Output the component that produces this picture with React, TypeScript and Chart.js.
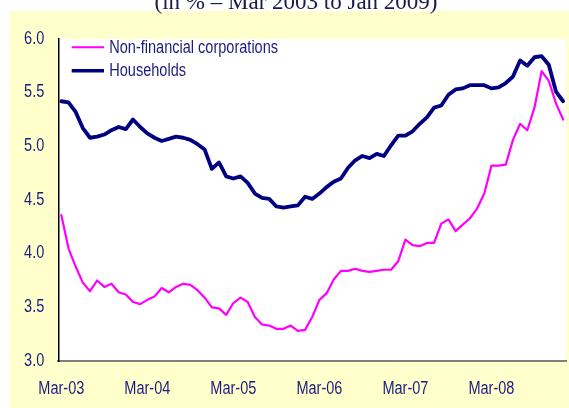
import React, { useEffect, useRef } from "react";
import { Chart, registerables } from "chart.js";

Chart.register(...registerables);

// Title of the figure (its upper half is cropped in the reference)
const titleText = "(in % \u2013 Mar 2003 to Jan 2009)";

// Series names
const seriesNames = ["Non-financial corporations", "Households"];

// X-axis tick labels and the month index (0 = Mar-03) at which they sit
const tickLabels = ["Mar-03", "Mar-04", "Mar-05", "Mar-06", "Mar-07", "Mar-08"];
const tickPositions = [0, 12, 24, 36, 48, 60];

// Y-axis ticks
const yTicks = [3.0, 3.5, 4.0, 4.5, 5.0, 5.5, 6.0];

// Monthly values, Mar 2003 .. Jan 2009 (71 months)
const nonFinancial = [
  4.36, 4.05, 3.88, 3.73, 3.65, 3.75, 3.69, 3.72, 3.64, 3.62, 3.55, 3.53,
  3.57, 3.60, 3.68, 3.64, 3.69, 3.72, 3.71, 3.66, 3.59, 3.50, 3.49, 3.43,
  3.54, 3.59, 3.55, 3.41, 3.34, 3.33, 3.30, 3.30, 3.33, 3.28, 3.29, 3.41,
  3.57, 3.63, 3.76, 3.84, 3.84, 3.86, 3.84, 3.83, 3.84, 3.85, 3.85, 3.93,
  4.13, 4.08, 4.07, 4.10, 4.10, 4.28, 4.32, 4.21, 4.27, 4.33, 4.42, 4.56,
  4.82, 4.82, 4.83, 5.06, 5.21, 5.15, 5.36, 5.70, 5.61, 5.40, 5.25,
];

const households = [
  5.42, 5.41, 5.32, 5.17, 5.08, 5.09, 5.11, 5.15, 5.18, 5.16, 5.25, 5.18,
  5.12, 5.08, 5.05, 5.07, 5.09, 5.08, 5.06, 5.02, 4.97, 4.79, 4.85, 4.72,
  4.70, 4.72, 4.66, 4.56, 4.52, 4.51, 4.44, 4.43, 4.44, 4.45, 4.53, 4.51,
  4.56, 4.62, 4.67, 4.70, 4.80, 4.87, 4.91, 4.89, 4.93, 4.91, 5.01, 5.10,
  5.10, 5.14, 5.21, 5.27, 5.36, 5.38, 5.48, 5.53, 5.54, 5.57, 5.57, 5.57,
  5.54, 5.55, 5.59, 5.65, 5.80, 5.75, 5.83, 5.84, 5.76, 5.51, 5.42,
];

const seriesColors = ["#FF00FF", "#000080"];
const seriesWidths = [2.2, 3.8];

const W = 569;
const H = 408;
const SANS = "'Liberation Sans', Arial, sans-serif";
const FONT_SIZE = 17.5;
const TEXT_SQUEEZE = 0.83; // the reference's sans text is horizontally condensed
const TEXT_COLOR = "#1C1C80";

const backgroundPlugin = {
  id: "panelBackground",
  beforeDraw(chart: any) {
    const { ctx, chartArea } = chart;
    ctx.save();
    ctx.fillStyle = "#FFFFFF";
    ctx.fillRect(0, 0, W, H);
    ctx.fillStyle = "#FFFFCC";
    ctx.fillRect(10, 11, W - 10, H - 11);
    ctx.fillStyle = "#FFFFFF";
    ctx.fillRect(chartArea.left, chartArea.top, chartArea.right - chartArea.left, chartArea.bottom - chartArea.top);
    ctx.fillStyle = "#1A1A4A";
    ctx.font = "23px 'Liberation Serif', 'Times New Roman', serif";
    ctx.textAlign = "center";
    ctx.textBaseline = "alphabetic";
    const plain = (ctx as any).__plainFillText || ctx.fillText.bind(ctx);
    plain(titleText, 296, 8.5);
    ctx.restore();
  },
};

const legendPlugin = {
  id: "insideLegend",
  afterDatasetsDraw(chart: any) {
    const { ctx } = chart;
    const ds = chart.data.datasets;
    ctx.save();
    ctx.font = `${FONT_SIZE}px ${SANS}`;
    ctx.textAlign = "left";
    ctx.textBaseline = "middle";
    ds.forEach((d: any, i: number) => {
      const y = 47.3 + i * 23.4;
      ctx.strokeStyle = d.borderColor;
      ctx.lineWidth = i === 0 ? 2 : 3.6;
      ctx.lineCap = "butt";
      ctx.beginPath();
      ctx.moveTo(71.7, y);
      ctx.lineTo(104, y);
      ctx.stroke();
      ctx.fillStyle = TEXT_COLOR;
      ctx.fillText(d.label, 109.3, y + 0.5);
    });
    ctx.restore();
  },
};

function squeezeText(ctx: any) {
  if (ctx.__plainFillText) return;
  const plain = ctx.fillText.bind(ctx);
  ctx.__plainFillText = plain;
  ctx.fillText = function (text: string, x: number, y: number, maxWidth?: number) {
    ctx.save();
    ctx.translate(x, y);
    ctx.scale(TEXT_SQUEEZE, 1);
    if (maxWidth !== undefined) plain(text, 0, 0, maxWidth / TEXT_SQUEEZE);
    else plain(text, 0, 0);
    ctx.restore();
  };
}

function ChartCanvas() {
  const ref = useRef<HTMLCanvasElement | null>(null);

  useEffect(() => {
    const canvas = ref.current;
    if (!canvas) return;
    const ctx2d = canvas.getContext("2d");
    if (ctx2d) squeezeText(ctx2d);
    const series = [nonFinancial, households];
    const chart = new Chart(canvas, {
      type: "line",
      data: {
        datasets: series.map((vals, s) => ({
          label: seriesNames[s],
          data: vals.map((y, i) => ({ x: i, y })),
          borderColor: seriesColors[s],
          backgroundColor: seriesColors[s],
          borderWidth: seriesWidths[s],
          pointRadius: 0,
          tension: 0,
          fill: false,
          borderJoinStyle: "round" as const,
          borderCapStyle: "round" as const,
        })),
      },
      options: {
        responsive: false,
        animation: false,
        devicePixelRatio: 1,
        layout: { padding: { left: 0, top: 39, right: 3, bottom: 0 } },
        plugins: {
          legend: { display: false },
          tooltip: { enabled: false },
          title: { display: false },
        },
        scales: {
          x: {
            type: "linear",
            min: -0.42,
            max: 70.4,
            grid: { display: false, drawTicks: false },
            border: { display: true, color: "#808080", width: 2 },
            afterBuildTicks: (scale: any) => {
              scale.ticks = tickPositions.map((v) => ({ value: v }));
            },
            afterFit: (scale: any) => {
              scale.height = 47;
            },
            ticks: {
              autoSkip: false,
              maxRotation: 0,
              padding: 18,
              color: TEXT_COLOR,
              font: { family: SANS, size: FONT_SIZE },
              callback: (v: any) => {
                const idx = tickPositions.indexOf(Number(v));
                return idx >= 0 ? tickLabels[idx] : "";
              },
            },
          },
          y: {
            type: "linear",
            min: yTicks[0],
            max: yTicks[yTicks.length - 1],
            grid: { display: false, drawTicks: false },
            border: { display: true, color: "#000000", width: 1.5 },
            afterBuildTicks: (scale: any) => {
              scale.ticks = yTicks.map((v) => ({ value: v }));
            },
            afterFit: (scale: any) => {
              scale.width = 58.3;
            },
            ticks: {
              padding: 14,
              color: TEXT_COLOR,
              font: { family: SANS, size: FONT_SIZE },
              callback: (v: any) => Number(v).toFixed(1),
            },
          },
        },
      },
      plugins: [backgroundPlugin, legendPlugin],
    });
    return () => chart.destroy();
  }, []);

  return <canvas ref={ref} width={W} height={H} style={{ display: "block", width: W, height: H }} />;
}

export default function App() {
  return (
    <div style={{ position: "fixed", left: 0, top: 0, width: W, height: H, overflow: "hidden", background: "#fff" }}>
      <ChartCanvas />
    </div>
  );
}
